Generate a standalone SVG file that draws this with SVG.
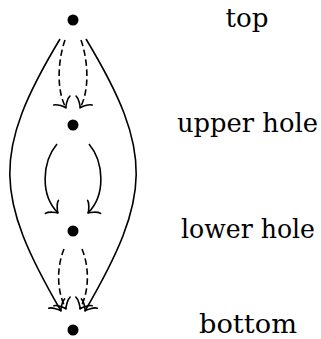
<svg xmlns="http://www.w3.org/2000/svg" width="321" height="339" viewBox="0 0 321 339">
<style>
.edge{fill:none;stroke:#000;stroke-width:1.6;stroke-linecap:butt}
.dash{stroke-dasharray:6.5 3.5}
.dot{fill:#000}
.lbl{font-size:26px;fill:#000;text-anchor:middle}
.head{fill:none;stroke:#000;stroke-width:1.6;stroke-linecap:round;stroke-linejoin:round;stroke-dasharray:none}
</style>
<defs>
<marker id="to" markerUnits="userSpaceOnUse" orient="auto" refX="0" refY="0" markerWidth="20" markerHeight="20" viewBox="-10 -10 20 20" overflow="visible">
<path class="head" d="M -8.6,9.2 C -8,5.8 -1.7,0.6 0,0 C -1.7,-0.6 -8,-5.8 -8.6,-9.2"/>
</marker>
</defs>
<g id="connectors">
<path class="edge" marker-end="url(#to)" d="M 60,39 C -8.6,153 -5.6,196 61,311"/>
<path class="edge" marker-end="url(#to)" d="M 86,39 C 154.6,153 151.6,196 85,311"/>
<path class="edge dash" marker-end="url(#to)" d="M 65,40 C 58,60 56,90 66,108"/>
<path class="edge dash" marker-end="url(#to)" d="M 81,40 C 88,60 90,90 80,108"/>
<path class="edge" marker-end="url(#to)" d="M 57,144 C 42,162 40,195 58,213"/>
<path class="edge" marker-end="url(#to)" d="M 89,144 C 104,162 106,195 88,213"/>
<path class="edge dash" marker-end="url(#to)" d="M 64,249 C 57,266 56,290 66,309"/>
<path class="edge dash" marker-end="url(#to)" d="M 82,249 C 89,266 90,290 80,309"/>
</g>
<g id="top"><circle class="dot" cx="73" cy="20" r="5.5"/><text class="lbl" font-family="DejaVu Serif, serif" x="247" y="27" textLength="43" lengthAdjust="spacingAndGlyphs">top</text></g>
<g id="upper-hole"><circle class="dot" cx="73" cy="125" r="5.5"/><text class="lbl" font-family="DejaVu Serif, serif" x="247.5" y="132" textLength="141" lengthAdjust="spacingAndGlyphs">upper hole</text></g>
<g id="lower-hole"><circle class="dot" cx="73" cy="231" r="5.5"/><text class="lbl" font-family="DejaVu Serif, serif" x="248" y="238" textLength="134" lengthAdjust="spacingAndGlyphs">lower hole</text></g>
<g id="bottom"><circle class="dot" cx="73" cy="330" r="5.5"/><text class="lbl" font-family="DejaVu Serif, serif" x="248" y="333" textLength="98" lengthAdjust="spacingAndGlyphs">bottom</text></g>
</svg>
